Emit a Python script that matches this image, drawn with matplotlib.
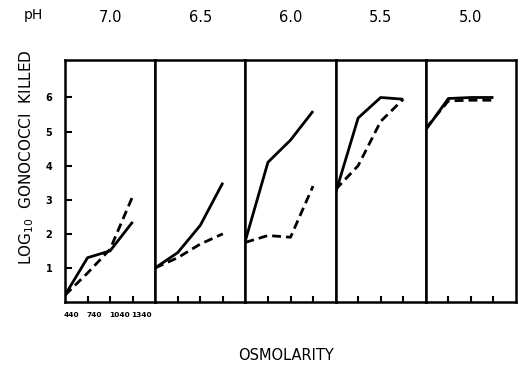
import numpy as np
import matplotlib.pyplot as plt

# valores
ph = ["7.0", "6.5", "6.0", "5.5", "5.0"]
osm = [440, 740, 1040, 1340]
osm_rotulos = ["440", "740", "1040", "1340"]

# linha cheia
cheia = [
    [0.2, 1.3, 1.5, 2.35],
    [1.0, 1.45, 2.25, 3.5],
    [1.8, 4.1, 4.75, 5.6],
    [3.2, 5.4, 6.0, 5.95],
    [5.05, 5.97, 6.0, 6.0],
]
# linha tracejada
tracejada = [
    [0.2, 0.85, 1.55, 3.1],
    [1.0, 1.3, 1.7, 2.0],
    [1.75, 1.95, 1.9, 3.4],
    [3.3, 4.0, 5.3, 5.95],
    [5.1, 5.9, 5.92, 5.92],
]

fig = plt.figure(figsize=(5.22, 3.66), dpi=100)
W, H = 522, 366
esq, dir_, topo, base = 65, 516, 60, 302
larg = (dir_ - esq) / 5

for i in range(5):
    ax = fig.add_axes([(esq + i * larg) / W, 1 - base / H, larg / W, (base - topo) / H])
    ax.plot(osm, cheia[i], color="black", lw=2.0, solid_capstyle="butt")
    ax.plot(osm, tracejada[i], color="black", lw=2.0, dashes=(3.2, 1.8))
    ax.set_xlim(440, 1640)
    ax.set_ylim(0, 7.1)
    for s in ax.spines.values():
        s.set_linewidth(1.8)
    ax.set_xticks(osm[1:])
    ax.tick_params(axis="x", direction="in", length=4, width=1.5, labelbottom=False)
    if i == 0:
        ax.set_yticks(range(1, 7))
        ax.tick_params(axis="y", direction="in", length=5, width=1.5, labelsize=7, pad=9)
        for t in ax.get_yticklabels():
            t.set_fontweight("bold")
        for x, r in zip(osm, osm_rotulos):
            ax.text(x - 15, -0.3, r, fontsize=5.3, fontweight="bold", ha="left", va="top")
    else:
        ax.set_yticks([])
    fig.text((esq + (i + 0.5) * larg) / W, 1 - 17 / H, ph[i], fontsize=10.5, ha="center", va="center")

fig.text(33 / W, 1 - 15 / H, "pH", fontsize=10, ha="center", va="center")
fig.text(27 / W, 1 - 157 / H, r"LOG$_{10}$  GONOCOCCI  KILLED", rotation=90, fontsize=11,
         ha="center", va="center")
fig.text(286 / W, 1 - 355 / H, "OSMOLARITY", fontsize=10.5, ha="center", va="center")

plt.savefig("out.png", dpi=100)
